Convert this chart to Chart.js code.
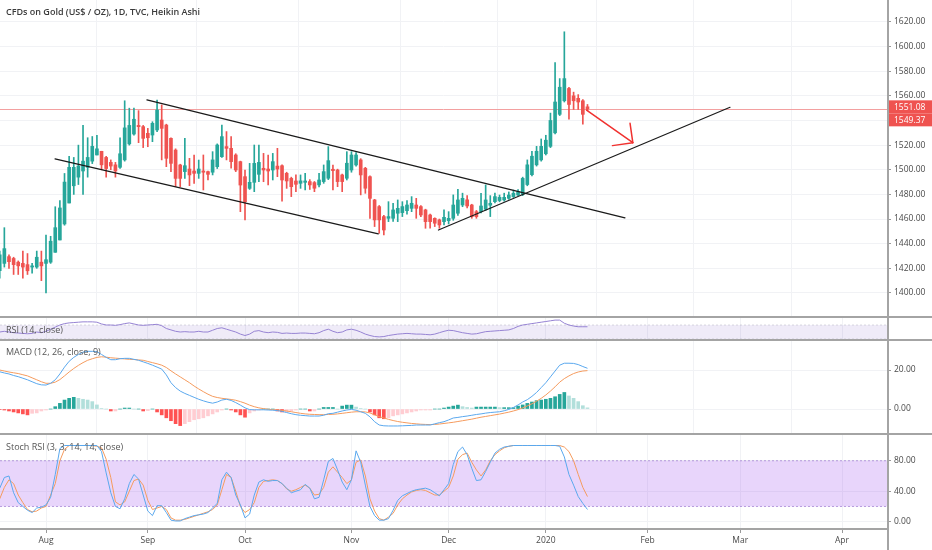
<!DOCTYPE html>
<html>
<head>
<meta charset="utf-8">
<script src="https://cdn.jsdelivr.net/npm/chart.js@4.4.0/dist/chart.umd.min.js"></script>
<style>
body { margin: 0; background: #fff; width: 932px; height: 550px; overflow: hidden; position: relative; font-family: 'Open Sans', sans-serif; }
canvas { position: absolute; left: 0; }
.sep { position: absolute; left: 0; width: 932px; height: 2px; background: #a4a4a4; }
.vline { position: absolute; left: 887px; top: 0; width: 2px; height: 550px; background: #a4a4a4; }
.lbl { position: absolute; left: 6px; font-size: 9px; color: #555; white-space: nowrap; line-height: 11px; }
.title { position: absolute; left: 6px; top: 6px; font-size: 9px; font-weight: 600; color: #3a3a3a; white-space: nowrap; line-height: 11px; }
</style>
</head>
<body>
<canvas id="main" width="932" height="316" style="top:0;width:932px;height:316px"></canvas>
<canvas id="rsi" width="932" height="21" style="top:318px;width:932px;height:21px"></canvas>
<canvas id="macd" width="932" height="92" style="top:341px;width:932px;height:92px"></canvas>
<canvas id="stoch" width="932" height="115" style="top:435px;width:932px;height:115px"></canvas>
<div class="sep" style="top:316px"></div>
<div class="sep" style="top:339px"></div>
<div class="sep" style="top:433px"></div>
<div class="sep" style="top:528px;width:889px"></div>
<div class="vline"></div>
<div class="title">CFDs on Gold (US$ / OZ), 1D, TVC, Heikin Ashi</div>
<div class="lbl" style="top:324px">RSI (14, close)</div>
<div class="lbl" style="top:346px">MACD (12, 26, close, 9)</div>
<div class="lbl" style="top:441px">Stoch RSI (3, 3, 14, 14, close)</div>
<script>
// daily bars, trading days only
var firstDay = '2019-07-18';
var holidays = ['2019-12-25', '2020-01-01'];
var monthNames = ['Jan', 'Feb', 'Mar', 'Apr', 'May', 'Jun', 'Jul', 'Aug', 'Sep', 'Oct', 'Nov', 'Dec'];

// Heikin Ashi candles
var open = [1418,1424,1429.5,1428,1425,1424,1423,1421,1421,1425,
  1424,1425,1433,1443,1456,1473,1487,1494,1499,1502,
  1507,1512,1515,1510,1506,1504,1502,1508,1521,1529,
  1536,1535,1529.6,1528.2,1532.3,1540.4,1536.3,1525.5,1516,1503.9,
  1498.5,1500.6,1499,1497.1,1499,1498.5,1498,1502.5,1510.6,1518.8,
  1517.4,1512,1506.6,1494.4,1484.9,1489.8,1496.3,1501.2,1500.6,1499.8,
  1503,1503.3,1497.1,1493,1490.9,1489,1489.8,1490.4,1489.6,1487.7,
  1490.4,1493.1,1500.4,1499.8,1495.8,1493.1,1499.8,1503.9,1508,1501.2,
  1494.4,1475.5,1470.1,1462,1460.6,1460.6,1464.7,1465.2,1466.8,1468.7,
  1471.4,1470.1,1467.4,1463.3,1460.6,1459.3,1457.9,1458.7,1460.6,1464.7,
  1471.4,1475.6,1471.4,1466,1466,1467.9,1471.2,1474.1,1475,1475.5,
  1476.8,1478.2,1479.5,1480,1488,1496,1504,1508,1513,1519,
  1530,1545,1556,1566,1560,1558,1556,1551.1];
var high = [1434,1453,1431,1429,1426,1434,1432,1424,1434,1434,
  1447,1446,1470,1475,1497,1511,1510,1520,1536,1526,
  1527,1528,1515,1511,1508,1506,1526,1556,1550,1550,
  1548,1536,1533.6,1539,1556.6,1552.6,1537,1526,1517,1504.5,
  1525.5,1509.3,1512,1507.9,1512,1499,1514.7,1521,1536.3,1531,
  1526.9,1513,1507,1499.8,1505.2,1520.1,1520.1,1513.3,1512,1513.3,
  1517.4,1504,1498,1494,1495.8,1495.8,1497.1,1492,1490.5,1497.1,
  1503.9,1518.8,1503.9,1500.5,1496.5,1514.7,1514.7,1514,1509,1502,
  1495,1476,1471,1463,1474.1,1472.8,1475.5,1474.1,1475,1478.2,
  1476.8,1471,1468,1464,1461,1460,1467.4,1466,1479.6,1484.2,
  1481,1479,1472,1467,1480.9,1487.7,1479,1481,1479.5,1481,
  1482,1483.5,1484,1494,1508,1515,1519,1525,1528,1546,
  1587,1574,1612,1567,1563,1561,1557,1553];
var low = [1412,1421,1420,1415,1415,1412,1415,1416,1420,1410,
  1400,1424,1433,1443,1455,1473,1480,1488,1480,1494,
  1505,1512,1500,1494,1500,1494,1501,1507,1520,1528,
  1522,1518,1518.7,1522.8,1531,1508,1502.5,1498.5,1486.3,1486.3,
  1493,1487.1,1489,1493,1483.6,1491.7,1495.8,1501,1510,1508,
  1501.2,1498.5,1466,1459.2,1484,1482.2,1490.3,1490.3,1487.6,1491.7,
  1494.4,1474.6,1484.9,1478.2,1482.2,1484.9,1483.6,1484,1482.2,1486,
  1489,1492,1483.6,1486.3,1482.2,1491.7,1498,1503,1479.6,1480.9,
  1460.6,1453.9,1448.4,1447.1,1457.9,1458,1457.9,1462,1464,1466,
  1460.6,1462,1452.5,1452.5,1453.9,1452.5,1455.2,1456,1459,1463,
  1470,1469,1460.6,1460.6,1465,1467,1462,1473,1474,1474.5,
  1476,1477.5,1479,1479,1487,1495,1503,1507,1512,1518,
  1529,1544,1555,1541,1549,1549,1537,1548];
var close = [1431,1436,1425.4,1423,1422,1421,1418,1422,1429,1422,
  1427,1442,1453,1469,1490,1502,1502,1503,1507,1510,
  1519,1517,1504,1501,1503,1499,1513,1534,1536,1541,
  1535,1525.5,1526,1537.7,1548.5,1533.6,1509.3,1505.2,1493,1493,
  1503.3,1495.8,1497.1,1500.6,1498,1496.3,1508,1520.1,1526.9,1517.4,
  1506.6,1499.8,1487.6,1474.1,1489.8,1505.2,1506,1499.8,1499,1506.6,
  1500.6,1491.7,1490.9,1486.3,1488.2,1491,1490.9,1487.7,1485,1491.7,
  1498.5,1507.4,1499.3,1490.4,1490.4,1505.3,1512,1512,1495.8,1485,
  1476.8,1459.3,1459.3,1451.1,1462,1467.4,1468.7,1470.1,1471.4,1472.8,
  1468.7,1463.3,1457.9,1457.9,1456.6,1455.2,1461.4,1460.6,1471.4,1475.5,
  1476.8,1470.6,1461.9,1461.9,1470.6,1475.5,1472.8,1478.2,1477.6,1477.6,
  1479.5,1480.9,1482.2,1493,1504,1511,1515,1519,1524,1540,
  1555,1567,1574,1553,1556,1555,1545,1549.4];

var rsiValues = [50,52,50,48,47,46,45,46,50,48,
  52,58,64,70,74,76,77,78,79,79,
  79,78,73,70,70,69,71,74,76,73,
  70,69,70,71,72,68,60,56,52,50,
  51,50,50,52,50,50,55,60,62,58,
  54,50,44,40,44,52,54,50,48,50,
  49,46,47,46,46,47,47,46,45,48,
  54,58,52,48,50,56,58,55,50,44,
  40,37,36,37,40,42,44,45,46,45,
  44,44,43,42,44,48,52,55,54,51,
  48,46,44,45,48,51,52,53,54,55,
  56,60,66,70,72,74,76,78,80,82,
  84,84,75,70,67,65,65,65];

var macdLine = [19.1,18.5,18,17.2,16.6,15.8,15,14,13,12.4,
  12.3,13.2,15,18,21.5,24.5,26.5,28,29.2,29.6,
  29.6,29.4,28,26.5,25.3,25.3,25.8,26,26,25.5,
  25,24.2,23.4,22.5,21.5,20.5,17.5,13.5,11,9.2,
  8,7,6,5,4.2,3.5,3,3.6,4.6,5,
  4.4,3.3,2,0.6,-0.3,-0.4,-0.4,-0.4,-0.5,-0.6,
  -0.8,-1.2,-1.8,-2.4,-2.9,-3.2,-3.4,-3.6,-3.6,-3.6,
  -3.2,-2.4,-2.2,-1.6,-1,-0.5,-0.2,-0.6,-1.4,-2.2,
  -4,-6.5,-8.2,-8.6,-8.7,-8.7,-8.7,-8.6,-8.5,-8.4,
  -8.2,-8.2,-8.2,-8.2,-7.6,-7,-6.5,-5.6,-4.6,-4.3,
  -3.9,-3.6,-3.2,-2.8,-2.5,-2.1,-1.8,-1.6,-1.4,-0.9,
  -0.2,0.8,2.1,3.6,4.8,6.5,8.5,11,13.5,16.5,
  19.5,22.5,23.5,23.5,23.4,22.8,21.8,20.9];
var signalLine = [20,19.5,19,18.6,18.2,17.6,17,16,15,14,
  13.2,13.2,13.8,15.1,17,19,20.8,22.4,23.8,25,
  25.8,26.5,26.8,26.6,26.3,26.1,25.9,25.7,25.5,25.4,
  25.2,25,24.4,23.8,23.2,22.5,21.3,19.6,18,16.5,
  15,13.5,11.8,10.3,8.9,7.6,6.5,5.9,5.5,5.2,
  4.9,4.5,3.8,3,2,1.2,0.6,0.2,-0.1,-0.3,
  -0.5,-0.7,-1,-1.4,-1.8,-2.2,-2.5,-2.7,-2.8,-2.9,
  -2.9,-2.8,-2.7,-2.5,-2.2,-1.9,-1.6,-1.4,-1.4,-1.5,
  -2,-3,-3.9,-4.6,-5.3,-5.9,-6.4,-6.8,-7.1,-7.4,
  -7.6,-7.8,-7.9,-8,-7.9,-7.7,-7.4,-7.1,-6.8,-6.4,
  -6,-5.6,-5.2,-4.7,-4.2,-3.8,-3.4,-3,-2.6,-2.1,
  -1.6,-1,-0.3,0.6,1.6,2.7,4,5.5,7.2,9.2,
  11.4,13.8,15.6,17,18.2,19,19.5,19.7];
var macdHist = [-0.3,-0.5,-1,-1.5,-2,-2.5,-3,-2.2,-2,-1,
  -0.5,0,1.2,2.9,4.6,5.5,6,5.5,5,4.6,
  3.8,2.1,0.3,0,-1,-1,0,0.5,0.5,0,
  0,-1,-0.8,0,-1.5,-3,-4.5,-6,-7.5,-8.5,
  -7.5,-6.5,-5.5,-5,-4.5,-3.5,-2.5,-1.5,-0.5,0,
  -0.5,-1.5,-3,-4.2,-2,-1,-0.5,0,0,0,
  -1,-1.5,-1.5,-1,-0.5,0,0,-1,-1,0,
  0.8,0.8,0.8,0,1.5,2,2,1,0.3,0,
  -1.5,-3,-4.5,-5,-4.5,-3.5,-3,-2.5,-2,-1.5,
  -1,-0.5,-0.5,-0.5,0,0,0.5,1,1.5,2,
  1.2,0.8,0.5,1,1,1,1,1,0.7,0.7,
  0.7,0.7,1.5,2.1,2.9,3.6,4.3,4.6,5,5.5,
  6.3,7.5,8.5,6.7,5.5,3.8,1.7,0.6];

var stochK = [44,58,60,38,25,20,15,12,18,19,
  22,32,62,96,100,100,100,100,100,100,
  100,100,92,64,38,20,17,30,50,62,
  56,35,14,8,21,21,12,2,1,1,
  4,6,8,9,10,12,18,24,55,65,
  58,35,22,5,10,35,52,55,53,54,
  54,50,44,38,40,42,49,44,30,32,
  55,79,83,68,52,42,55,93,78,48,
  20,8,2,2,4,15,28,34,37,40,
  42,43,44,42,38,34,42,50,75,92,
  98,88,70,54,55,66,78,90,95,98,
  99,100,100,100,100,100,100,100,100,100,
  100,99,85,62,48,33,24,16];
var stochD = [30,45,55,50,35,25,16,13,14,18,
  20,35,50,80,95,100,100,100,100,100,
  100,99,97,82,58,26,22,26,40,54,
  56,48,28,16,18,20,16,5,2,2,
  3,5,7,9,11,13,16,22,42,62,
  58,40,20,12,16,25,45,53,54,55,
  54,50,43,40,42,45,48,44,35,36,
  45,65,72,65,58,50,55,78,81,60,
  30,14,4,2,6,11,22,30,35,39,
  41,42,41,38,35,35,40,45,60,82,
  88,90,78,68,60,68,80,88,93,97,
  99,100,100,100,100,100,100,100,100,100,
  100,100,98,92,80,62,45,33];

var priceTicks = [1400, 1420, 1440, 1460, 1480, 1500, 1520, 1540, 1560, 1580, 1600, 1620];
var macdTicks = [0, 20];
var stochTicks = [0, 40, 80];
var lastPrices = [1551.08, 1549.37];

// drawings on the price pane: [bar, price, bar, price]
var trendLines = [
  [31.8, 1556.7, 135.1, 1460.9],
  [11.95, 1508.8, 81.8, 1447.9],
  [94.8, 1451.1, 157.8, 1550.7]
];
var arrowLines = [
  [126.8, 1548.5, 136.8, 1522],
  [136.8, 1522, 136.2, 1537.7],
  [136.8, 1522, 132.4, 1519.6]
];

var GREEN = '#26a69a', RED = '#ef5350';
var xMin = 0.06, xMax = 191.72;
var fontFamily = "'Open Sans', sans-serif";

// trading day calendar for the time axis
var days = [];
for (var d = new Date(firstDay + 'T00:00:00Z'); days.length < 193; d.setUTCDate(d.getUTCDate() + 1)) {
    var wd = d.getUTCDay();
    var iso = d.toISOString().slice(0, 10);
    if (wd === 0 || wd === 6 || holidays.indexOf(iso) >= 0) continue;
    days.push(new Date(d.getTime()));
}
var monthStarts = [];
var monthLabel = {};
for (var i = 1; i < days.length; i++) {
    if (days[i].getUTCMonth() !== days[i - 1].getUTCMonth()) {
        monthStarts.push(i);
        var m = days[i].getUTCMonth();
        monthLabel[i] = m === 0 ? String(days[i].getUTCFullYear()) : monthNames[m];
    }
}

function pts(arr) {
    return arr.map(function(v, i) { return {x: i, y: v}; });
}

function noPad(s) {
    s.paddingTop = 0; s.paddingBottom = 0; s.paddingLeft = 0; s.paddingRight = 0;
}

function xScale(showLabels) {
    return {
        type: 'linear', min: xMin, max: xMax, offset: false,
        afterBuildTicks: function(s) { s.ticks = monthStarts.map(function(v) { return {value: v}; }); },
        afterFit: function(s) { s.height = showLabels ? 21 : 0; noPad(s); },
        grid: {color: '#f1f2f5', drawTicks: showLabels, tickLength: 4, tickColor: '#9a9a9a'},
        border: {display: false},
        ticks: {
            display: showLabels, autoSkip: false, maxRotation: 0, padding: 2,
            color: '#4a4a4a', font: {size: 8.5, family: fontFamily},
            callback: function(v) { return monthLabel[v] || ''; }
        }
    };
}

function yScale(min, max, tickVals, show) {
    return {
        position: 'right', min: min, max: max,
        afterBuildTicks: function(s) { s.ticks = tickVals.map(function(v) { return {value: v}; }); },
        afterFit: function(s) { s.width = 45; noPad(s); },
        grid: {color: '#f1f2f5', tickLength: 4, tickColor: '#9a9a9a', drawTicks: show},
        border: {display: false},
        ticks: {
            display: show, padding: 3, color: '#4a4a4a', font: {size: 8.5, family: fontFamily},
            callback: function(v) { return v.toFixed(2); }
        }
    };
}

var baseOptions = function(scales) {
    return {
        responsive: false, maintainAspectRatio: false, animation: false,
        layout: {padding: 0},
        plugins: {legend: {display: false}, tooltip: {enabled: false}},
        scales: scales
    };
};

function bandPlugin(lo, hi, fill, dash) {
    return {
        id: 'band',
        beforeDatasetsDraw: function(chart) {
            var ctx = chart.ctx, ca = chart.chartArea, y = chart.scales.y;
            var y1 = y.getPixelForValue(hi), y2 = y.getPixelForValue(lo);
            ctx.save();
            ctx.fillStyle = fill;
            ctx.fillRect(ca.left, y1, ca.right - ca.left, y2 - y1);
            ctx.strokeStyle = dash;
            ctx.lineWidth = 1;
            ctx.setLineDash([2, 2]);
            [y1, y2].forEach(function(yy) {
                ctx.beginPath(); ctx.moveTo(ca.left, yy); ctx.lineTo(ca.right, yy); ctx.stroke();
            });
            ctx.restore();
        }
    };
}

// ---- price pane ----
var candleColors = close.map(function(c, i) { return c >= open[i] ? GREEN : RED; });

var priceOverlay = {
    id: 'priceOverlay',
    beforeDatasetsDraw: function(chart) {
        var ctx = chart.ctx, ca = chart.chartArea, y = chart.scales.y;
        var py = Math.round(y.getPixelForValue(lastPrices[1])) + 0.5;
        ctx.save();
        ctx.strokeStyle = '#f3a0a0';
        ctx.lineWidth = 1;
        ctx.beginPath(); ctx.moveTo(ca.left, py); ctx.lineTo(ca.right, py); ctx.stroke();
        ctx.restore();
    },
    afterDatasetsDraw: function(chart) {
        var ctx = chart.ctx, x = chart.scales.x, y = chart.scales.y;
        ctx.save();
        ctx.lineCap = 'round';
        ctx.strokeStyle = '#1a1a1a';
        ctx.lineWidth = 1.2;
        trendLines.forEach(function(l) {
            ctx.beginPath();
            ctx.moveTo(x.getPixelForValue(l[0]), y.getPixelForValue(l[1]));
            ctx.lineTo(x.getPixelForValue(l[2]), y.getPixelForValue(l[3]));
            ctx.stroke();
        });
        ctx.strokeStyle = '#f0312f';
        ctx.lineWidth = 1.5;
        arrowLines.forEach(function(l) {
            ctx.beginPath();
            ctx.moveTo(x.getPixelForValue(l[0]), y.getPixelForValue(l[1]));
            ctx.lineTo(x.getPixelForValue(l[2]), y.getPixelForValue(l[3]));
            ctx.stroke();
        });
        ctx.restore();
    },
    afterDraw: function(chart) {
        var ctx = chart.ctx, ca = chart.chartArea, y = chart.scales.y;
        var prevBottom = -Infinity;
        ctx.save();
        ctx.font = '8.5px ' + fontFamily;
        ctx.textBaseline = 'middle';
        lastPrices.forEach(function(p) {
            var top = Math.max(y.getPixelForValue(p) - 6.5, prevBottom);
            ctx.fillStyle = RED;
            ctx.fillRect(ca.right + 2, top, chart.width - ca.right - 2, 13);
            ctx.fillStyle = '#ffffff';
            ctx.fillText(p.toFixed(2), ca.right + 7, top + 6.8);
            prevBottom = top + 13;
        });
        ctx.restore();
    }
};

new Chart(document.getElementById('main'), {
    type: 'bar',
    data: {
        datasets: [{
            data: close.map(function(c, i) { return {x: i, y: [low[i], high[i]]}; }),
            backgroundColor: candleColors, barThickness: 1, grouped: false, order: 2
        }, {
            data: close.map(function(c, i) { return {x: i, y: [open[i], c]}; }),
            backgroundColor: candleColors, barThickness: 3, minBarLength: 1, grouped: false, order: 1
        }]
    },
    options: baseOptions({x: xScale(false), y: yScale(1381.3, 1637.8, priceTicks, true)}),
    plugins: [priceOverlay]
});

// ---- RSI pane ----
new Chart(document.getElementById('rsi'), {
    type: 'line',
    data: {datasets: [{data: pts(rsiValues), borderColor: '#9683d3', borderWidth: 1, pointRadius: 0, tension: 0}]},
    options: baseOptions({x: xScale(false), y: yScale(30, 90, [], false)}),
    plugins: [bandPlugin(30, 70, 'rgba(126,87,194,0.12)', 'rgba(150,150,170,0.35)')]
});

// ---- MACD pane ----
var histColors = macdHist.map(function(v, i) {
    var prev = i > 0 ? macdHist[i - 1] : 0;
    if (v >= 0) return v >= prev ? '#26a69a' : '#b2dfdb';
    return v < prev ? '#ff5252' : '#ffcdd2';
});

new Chart(document.getElementById('macd'), {
    type: 'bar',
    data: {
        datasets: [{
            type: 'bar', data: pts(macdHist), backgroundColor: histColors,
            barThickness: 3, grouped: false, order: 3
        }, {
            type: 'line', data: pts(macdLine), borderColor: '#5aa8ee', borderWidth: 1,
            pointRadius: 0, tension: 0, order: 1
        }, {
            type: 'line', data: pts(signalLine), borderColor: '#f59b5e', borderWidth: 1,
            pointRadius: 0, tension: 0, order: 2
        }]
    },
    options: baseOptions({x: xScale(false), y: yScale(-12.3, 34.9, macdTicks, true)})
});

// ---- Stoch RSI pane ----
new Chart(document.getElementById('stoch'), {
    type: 'line',
    data: {
        datasets: [{
            data: pts(stochK), borderColor: '#5aa8ee', borderWidth: 1, pointRadius: 0, tension: 0
        }, {
            data: pts(stochD), borderColor: '#f59b5e', borderWidth: 1, pointRadius: 0, tension: 0
        }]
    },
    options: baseOptions({x: xScale(true), y: yScale(-9.6, 113.8, stochTicks, true)}),
    plugins: [bandPlugin(20, 80, 'rgba(160,80,240,0.24)', 'rgba(140,100,200,0.6)')]
});
</script>
</body>
</html>
